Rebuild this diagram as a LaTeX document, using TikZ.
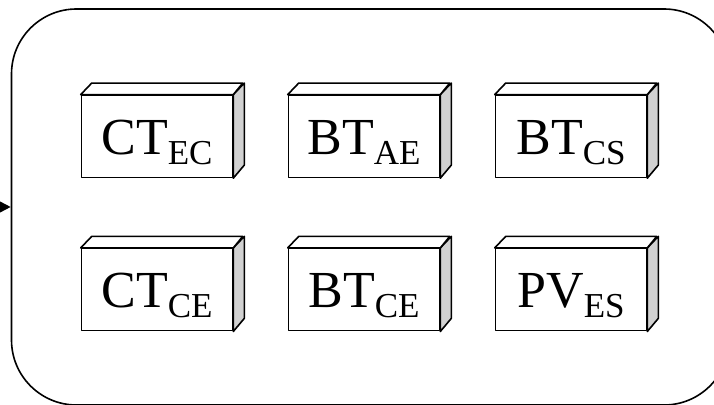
\documentclass[tikz,border=0pt]{standalone}
\usepackage{fontspec}
\setmainfont{Liberation Serif}
\usetikzlibrary{arrows.meta,calc}
\definecolor{sidegray}{gray}{0.82}
\tikzset{
  x=1pt, y=1pt,
  outline/.style={line width=1.6pt, line join=round},
  frontface/.style={outline, draw=black, fill=white, minimum width=151pt, minimum height=82pt, inner sep=0pt},
  grouping/.style={outline, draw=black, rounded corners=65pt, minimum width=717.5pt, minimum height=396pt, inner sep=0pt},
  lbl/.style={anchor=base, inner sep=0pt, font=\fontsize{52}{52}\selectfont}
}
\newcommand\boxcube[4]{% name, x, y, label
  \node[frontface] (#1) at (#2,#3) {};
  \draw[outline, fill=sidegray] (#1.north east) -- ++(11,11.5) -- ++(0,-82) -- (#1.south east) -- cycle;
  \draw[outline, fill=white] (#1.north west) -- ++(11,11.5) -- ++(151,0) -- (#1.north east) -- cycle;
  \node[lbl] (#1-t) at ($(#1.center)+(0,-18.3)$) {#4};
}
\newcommand\subs[1]{\raisebox{-10pt}{\fontsize{35}{35}\selectfont #1}}
\begin{document}
\begin{tikzpicture}
\useasboundingbox (0,0) rectangle (714,404);
\clip (0,0) rectangle (714,404);
\node[grouping] (group) at (370.25,197) {};
\coordinate (src) at (-20,197);
\draw[outline, -{Triangle[length=11pt,width=11pt]}] (src) -- (group.west);
\boxcube{cec}{157}{267.6}{CT\subs{EC}}
\boxcube{bae}{364}{267.6}{BT\subs{AE}}
\boxcube{bcs}{571}{267.6}{BT\subs{CS}}
\boxcube{cce}{157}{114.3}{CT\subs{CE}}
\boxcube{bce}{364}{114.3}{BT\subs{CE}}
\boxcube{pes}{571}{114.3}{PV\subs{ES}}
\end{tikzpicture}
\end{document}
